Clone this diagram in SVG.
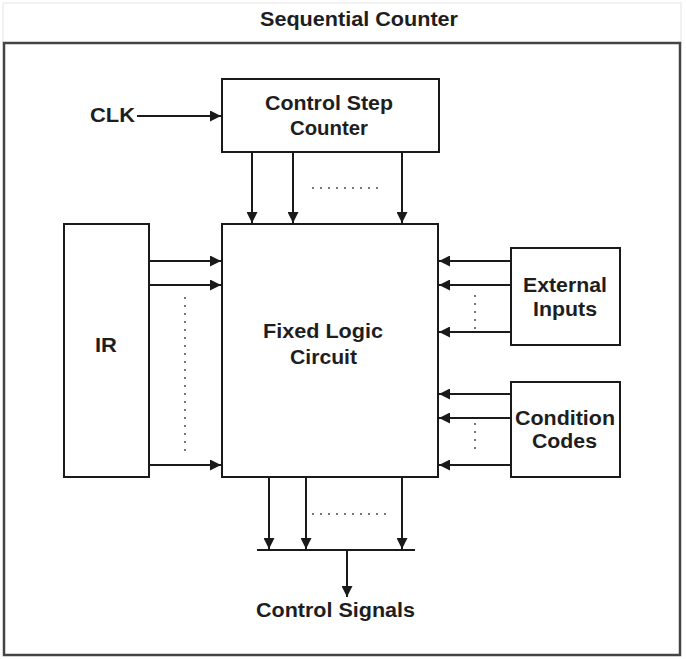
<svg xmlns="http://www.w3.org/2000/svg" width="686" height="659" viewBox="0 0 686 659">
<style>
.box{fill:#fff;stroke:#1a1a1a;stroke-width:2}
.t{font-family:"Liberation Sans",Arial,sans-serif;font-weight:bold;font-size:20px;fill:#1e1e1e;text-anchor:middle}
.c{fill:none;stroke:#1a1a1a;stroke-width:2}
.a{marker-end:url(#ah)}
.d{fill:none;stroke:#777;stroke-width:2;stroke-dasharray:2 6}
</style>
<defs>
<marker id="ah" viewBox="0 0 10 10" refX="10" refY="5" markerWidth="11" markerHeight="11" markerUnits="userSpaceOnUse" orient="auto">
<path d="M0,0 L10,5 L0,10 Z" fill="#1a1a1a"/>
</marker>
</defs>
<rect width="686" height="659" fill="#fff"/>
<g id="title">
<rect x="3" y="3" width="678" height="40" fill="#fff" stroke="#e4e4e4" stroke-width="1"/>
<text class="t" x="359" y="26" textLength="198" lengthAdjust="spacingAndGlyphs">Sequential Counter</text>
</g>
<g id="frame">
<rect x="4" y="43" width="676" height="612" fill="none" stroke="#444" stroke-width="2.5"/>
</g>
<g id="clk">
<text class="t" x="112.5" y="122" textLength="45" lengthAdjust="spacingAndGlyphs">CLK</text>
</g>
<g id="control-step-counter">
<rect class="box" x="222" y="79" width="217" height="73"/>
<text class="t" x="329" y="110" textLength="128" lengthAdjust="spacingAndGlyphs">Control Step</text>
<text class="t" x="329" y="135" textLength="78" lengthAdjust="spacingAndGlyphs">Counter</text>
</g>
<g id="ir">
<rect class="box" x="64" y="224" width="85" height="253"/>
<text class="t" x="106" y="352" textLength="22" lengthAdjust="spacingAndGlyphs">IR</text>
</g>
<g id="fixed-logic-circuit">
<rect class="box" x="222" y="224" width="216" height="253"/>
<text class="t" x="323" y="338" textLength="120" lengthAdjust="spacingAndGlyphs">Fixed Logic</text>
<text class="t" x="323.5" y="364" textLength="67" lengthAdjust="spacingAndGlyphs">Circuit</text>
</g>
<g id="external-inputs">
<rect class="box" x="511" y="248" width="109" height="97"/>
<text class="t" x="565" y="292" textLength="84" lengthAdjust="spacingAndGlyphs">External</text>
<text class="t" x="565" y="316" textLength="64" lengthAdjust="spacingAndGlyphs">Inputs</text>
</g>
<g id="condition-codes">
<rect class="box" x="511" y="382" width="109" height="95"/>
<text class="t" x="565" y="425" textLength="100" lengthAdjust="spacingAndGlyphs">Condition</text>
<text class="t" x="564.5" y="448" textLength="65" lengthAdjust="spacingAndGlyphs">Codes</text>
</g>
<g id="control-signals">
<text class="t" x="335.5" y="617" textLength="159" lengthAdjust="spacingAndGlyphs">Control Signals</text>
</g>
<g id="connectors">
<path class="c a" d="M137,116 H221"/>
<path class="c a" d="M252,152 V223"/>
<path class="c a" d="M293,152 V223"/>
<path class="c a" d="M402,152 V223"/>
<path class="c a" d="M149,261 H221"/>
<path class="c a" d="M149,285 H221"/>
<path class="c a" d="M149,465 H221"/>
<path class="c a" d="M511,261 H439"/>
<path class="c a" d="M511,285 H439"/>
<path class="c a" d="M511,332 H439"/>
<path class="c a" d="M511,394 H439"/>
<path class="c a" d="M511,418 H439"/>
<path class="c a" d="M511,465 H439"/>
<path class="c a" d="M269,477 V549"/>
<path class="c a" d="M306,477 V549"/>
<path class="c a" d="M402,477 V549"/>
<path class="c" d="M257,550 H415"/>
<path class="c a" d="M347,550 V597"/>
<path class="d" d="M312,188 H384"/>
<path class="d" d="M185,297 V455"/>
<path class="d" d="M475,295 V329"/>
<path class="d" d="M475,423 V455"/>
<path class="d" d="M312,514 H391"/>
</g>
</svg>
